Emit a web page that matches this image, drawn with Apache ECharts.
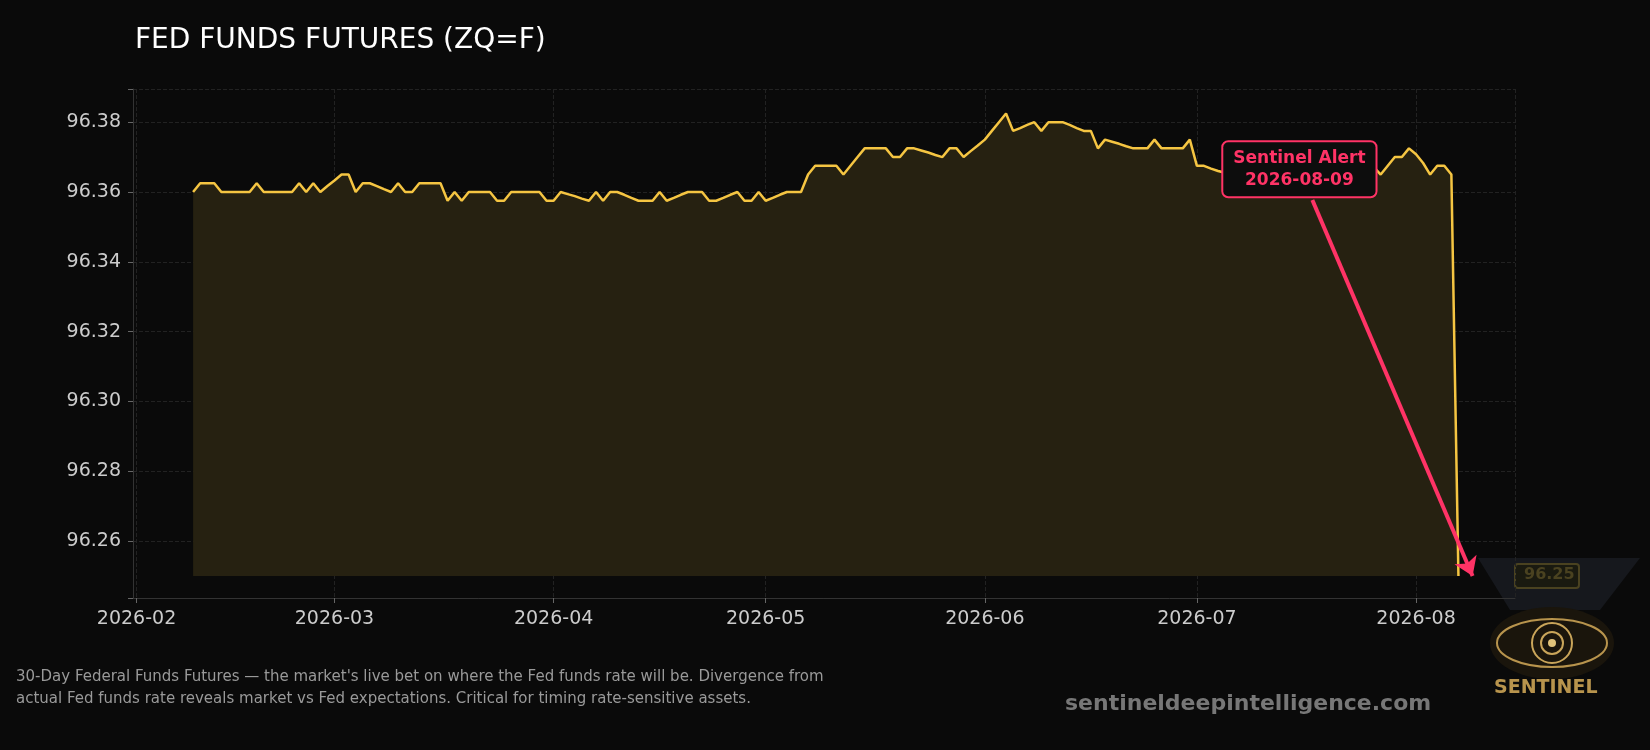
<!DOCTYPE html>
<html>
<head>
<meta charset="utf-8">
<script src="https://cdn.jsdelivr.net/npm/echarts@6/dist/echarts.min.js"></script>
<style>
html,body{margin:0;padding:0;background:#0a0a0a;}
#chart{width:1650px;height:750px;}
</style>
</head>
<body>
<div id="chart"></div>
<script>
// daily closes, starting 2026-02-09
var startDate = '2026-02-09';
var prices = [
96.36,96.3625,96.3625,96.3625,96.36,96.36,96.36,96.36,96.36,96.3625,
96.36,96.36,96.36,96.36,96.36,96.3625,96.36,96.3625,96.36,96.3617,
96.3633,96.365,96.365,96.36,96.3625,96.3625,96.3617,96.3608,96.36,96.3625,
96.36,96.36,96.3625,96.3625,96.3625,96.3625,96.3575,96.36,96.3575,96.36,
96.36,96.36,96.36,96.3575,96.3575,96.36,96.36,96.36,96.36,96.36,
96.3575,96.3575,96.36,96.3594,96.3588,96.3581,96.3575,96.36,96.3575,96.36,
96.36,96.3592,96.3583,96.3575,96.3575,96.3575,96.36,96.3575,96.3583,96.3592,
96.36,96.36,96.36,96.3575,96.3575,96.3583,96.3592,96.36,96.3575,96.3575,
96.36,96.3575,96.3583,96.3592,96.36,96.36,96.36,96.365,96.3675,96.3675,
96.3675,96.3675,96.365,96.3675,96.37,96.3725,96.3725,96.3725,96.3725,96.37,
96.37,96.3725,96.3725,96.3719,96.3713,96.3706,96.37,96.3725,96.3725,96.37,
96.3717,96.3733,96.375,96.3775,96.38,96.3825,96.3775,96.3783,96.3792,96.38,
96.3775,96.38,96.38,96.38,96.3792,96.3783,96.3775,96.3775,96.3725,96.375,
96.3744,96.3738,96.3731,96.3725,96.3725,96.3725,96.375,96.3725,96.3725,96.3725,
96.3725,96.375,96.3675,96.3675,96.3667,96.366,96.3655,96.365,96.3675,96.37,
96.3725,96.3708,96.369,96.3694,96.3708,96.3725,96.3708,96.3694,96.368,96.367,
96.3694,96.37,96.3704,96.365,96.368,96.3688,96.3694,96.3672,96.365,96.3675,
96.37,96.37,96.3725,96.3708,96.3683,96.365,96.3675,96.3675,96.365,96.25
];
var yTicks = [96.26, 96.28, 96.30, 96.32, 96.34, 96.36, 96.38];
var alertDate = '2026-08-09';
var alertValue = 96.25;
var lastLabel = '96.25';

var DAY = 86400000;
var t0 = new Date(startDate + 'T00:00:00Z').getTime();
var series = prices.map(function (v, i) { return [t0 + i * DAY, v]; });
var alertTime = new Date(alertDate + 'T00:00:00Z').getTime();

var option = {
    backgroundColor: '#0a0a0a',
    animation: false,
    title: {
        text: 'FED FUNDS FUTURES (ZQ=F)',
        left: 130, top: 22,
        textStyle: { color: '#ffffff', fontSize: 28, fontWeight: 'normal', fontFamily: 'DejaVu Sans' }
    },
    grid: { left: 133, right: 135, top: 89, bottom: 152 },
    xAxis: {
        type: 'time',
        min: Date.UTC(2026, 0, 31, 12),
        max: Date.UTC(2026, 7, 15),
        minInterval: 28 * DAY,
        maxInterval: 31 * DAY,
        axisLine: { lineStyle: { color: '#333' } },
        axisTick: { show: true, lineStyle: { color: '#666' } },
        axisLabel: {
            color: '#cccccc', fontSize: 19, fontFamily: 'DejaVu Sans', margin: 12,
            formatter: function (v) {
                var d = new Date(v);
                var m = d.getUTCMonth() + 1;
                return d.getUTCFullYear() + '-' + (m < 10 ? '0' + m : m);
            }
        },
        splitLine: { show: true, lineStyle: { color: '#222', type: 'dashed' } }
    },
    yAxis: {
        type: 'value',
        min: 96.2437, max: 96.3895, splitNumber: 7,
        axisLine: { show: true, lineStyle: { color: '#333' } },
        axisTick: { show: true, lineStyle: { color: '#666' } },
        axisLabel: {
            color: '#cccccc', fontSize: 19, fontFamily: 'DejaVu Sans', margin: 12,
            formatter: function (v) {
                for (var i = 0; i < yTicks.length; i++) {
                    if (Math.abs(yTicks[i] - v) < 1e-6) return v.toFixed(2);
                }
                return '';
            }
        },
        splitLine: { lineStyle: { color: '#222', type: 'dashed' } }
    },
    series: [{
        type: 'line',
        data: series,
        showSymbol: false,
        lineStyle: { color: '#f5c542', width: 2.5 },
        areaStyle: { color: '#262111', origin: 96.25, opacity: 1 },
        z: 3,
        markLine: {
            silent: true,
            symbol: ['none', 'arrow'],
            symbolSize: 18,
            lineStyle: { color: '#ff3366', width: 4, type: 'solid' },
            label: { show: false },
            data: [[
                { coord: [Date.UTC(2026, 6, 17, 8), 96.3577] },
                { coord: [alertTime, alertValue] }
            ]]
        },
        markPoint: {
            silent: true,
            symbol: 'rect',
            symbolSize: 1,
            itemStyle: { color: 'rgba(0,0,0,0)' },
            data: [{
                coord: [Date.UTC(2026, 6, 15, 12), 96.3665],
                label: {
                    show: true,
                    position: 'inside',
                    formatter: 'Sentinel Alert\n2026-08-09',
                    color: '#ff3366', fontSize: 17, fontWeight: 'bold', fontFamily: 'DejaVu Sans',
                    align: 'center', lineHeight: 22,
                    backgroundColor: '#0d0d0d', borderColor: '#ff3366', borderWidth: 2, borderRadius: 5,
                    padding: [5, 10]
                }
            }]
        }
    }],
    graphic: [
        { type: 'text', left: 16, top: 666, style: {
            text: "30-Day Federal Funds Futures \u2014 the market's live bet on where the Fed funds rate will be. Divergence from\nactual Fed funds rate reveals market vs Fed expectations. Critical for timing rate-sensitive assets.",
            fill: '#999', fontSize: 15, lineHeight: 22, fontFamily: 'DejaVu Sans' } },
        { type: 'text', left: 1065, top: 693, style: {
            text: 'sentineldeepintelligence.com', fill: '#777', fontSize: 22, fontWeight: 'bold', fontFamily: 'DejaVu Sans' } },
        { type: 'polygon', shape: { points: [[1478, 558], [1640, 558], [1600, 610], [1510, 610]] }, style: { fill: '#16181d' } },
        { type: 'rect', shape: { x: 1515, y: 564, width: 64, height: 24, r: 3 }, style: { fill: '#1a1a10', stroke: '#4a4220', lineWidth: 2 } },
        { type: 'text', left: 1524, top: 567, style: { text: lastLabel, fill: '#4a4220', fontSize: 16, fontWeight: 'bold', fontFamily: 'DejaVu Sans' } },
        { type: 'ellipse', shape: { cx: 1552, cy: 643, rx: 62, ry: 36 }, style: { fill: '#1a150c' } },
        { type: 'ellipse', shape: { cx: 1552, cy: 643, rx: 55, ry: 24 }, style: { fill: 'none', stroke: '#b8944d', lineWidth: 2 } },
        { type: 'circle', shape: { cx: 1552, cy: 643, r: 20 }, style: { fill: 'none', stroke: '#c9a55a', lineWidth: 2 } },
        { type: 'circle', shape: { cx: 1552, cy: 643, r: 11 }, style: { fill: 'none', stroke: '#c9a55a', lineWidth: 2 } },
        { type: 'circle', shape: { cx: 1552, cy: 643, r: 4 }, style: { fill: '#e0c27a' } },
        { type: 'text', left: 1494, top: 679, style: { text: 'SENTINEL', fill: '#b8944d', fontSize: 19, fontWeight: 'bold', fontFamily: 'DejaVu Sans' } }
    ]
};

var myChart = echarts.init(document.getElementById('chart'));
myChart.setOption(option);
</script>
</body>
</html>
